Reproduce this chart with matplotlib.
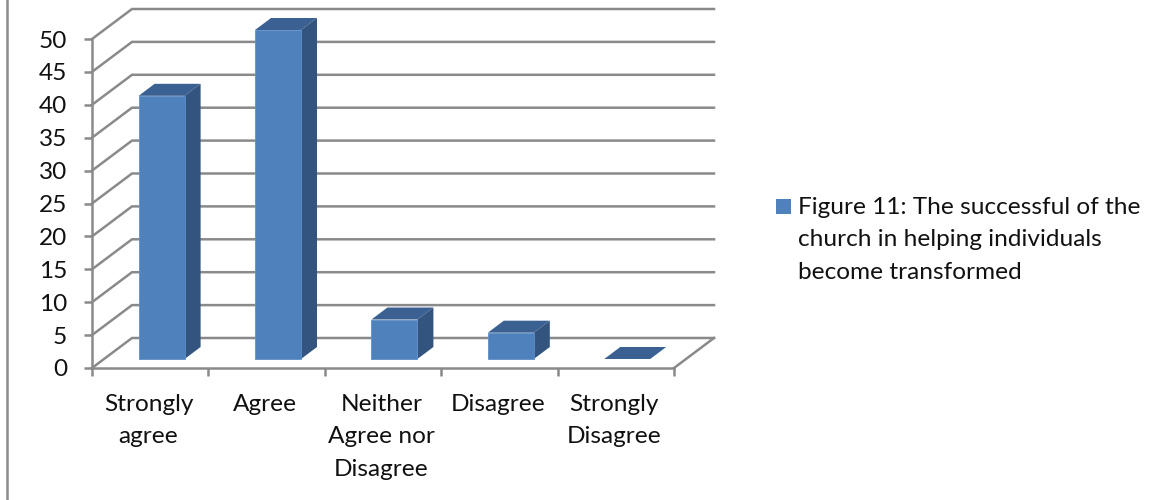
import matplotlib
matplotlib.use("Agg")
import matplotlib.pyplot as plt
from matplotlib.lines import Line2D
from matplotlib.patches import Patch, Polygon, Rectangle
from matplotlib.legend_handler import HandlerPatch

categories = ["Strongly\nagree", "Agree", "Neither\nAgree nor\nDisagree", "Disagree", "Strongly\nDisagree"]
values = [40, 50, 6, 4, 0]
y_ticks = list(range(0, 55, 5))
series_name = "Figure 11: The successful of the\nchurch in helping individuals\nbecome transformed"

FRONT = "#4f81bd"
SIDE = "#32547e"
TOP = "#3b6192"
GRID = "#8a8a8a"
TEXT = "#111111"
FONT = "Lato"
FONT_SIZE = 17.6

W, H = 1153, 500
fig = plt.figure(figsize=(W / 100, H / 100), dpi=100, facecolor="white")
ax = fig.add_axes([92 / W, (H - 368) / H, 582 / W, 329 / H])
ax.set_xlim(0, len(categories))
ax.set_ylim(0, 50)
for s in ax.spines.values():
    s.set_visible(False)
ax.patch.set_alpha(0)

# Depth of the oblique projection, in data units along each axis
depth_x = 40 / (582 / 5)
depth_y = 30 / (329 / 50)
grid_lw = 1.8

def project(x, y, d):
    """Front-plane point pushed back by a depth fraction d."""
    return x + d * depth_x, y + d * depth_y

# Wall and floor gridlines
for v in y_ticks:
    x0, y0 = project(0, v, 1)
    x1, _ = project(len(categories), v, 1)
    ax.plot([0, x0, x1], [v, y0, y0], color=GRID, lw=grid_lw, clip_on=False,
            solid_joinstyle="miter", zorder=1)
x_end, y_end = project(len(categories), 0, 1)
ax.plot([len(categories), x_end], [0, y_end], color=GRID, lw=grid_lw, clip_on=False, zorder=1)
ax.plot([0, 0], [0, 50], color=GRID, lw=grid_lw, clip_on=False, zorder=2)
ax.plot([0, len(categories)], [0, 0], color=GRID, lw=grid_lw, clip_on=False, zorder=2)

# Extruded columns
bar_width = 0.395
near, far = 0.3, 0.7
for i, v in enumerate(values):
    xl = i + 0.5 - bar_width / 2 - 0.005
    xr = xl + bar_width
    def pts(seq):
        return [project(x, y, d) for x, y, d in seq]
    top = pts([(xl, v, near), (xr, v, near), (xr, v, far), (xl, v, far)])
    ax.add_patch(Polygon(top, closed=True, fc=TOP, ec="none", clip_on=False, zorder=3))
    if v > 0:
        side = pts([(xr, 0, near), (xr, 0, far), (xr, v, far), (xr, v, near)])
        ax.add_patch(Polygon(side, closed=True, fc=SIDE, ec="none", clip_on=False, zorder=3))
        front = pts([(xl, 0, near), (xr, 0, near), (xr, v, near), (xl, v, near)])
        ax.add_patch(Polygon(front, closed=True, fc=FRONT, ec="#5f8fc8", lw=0.6, clip_on=False, zorder=4))

# Axis ticks and labels
ax.set_yticks(y_ticks)
ax.set_xticks(range(len(categories) + 1))
ax.set_xticklabels([])
ax.tick_params(axis="both", color=GRID, width=grid_lw, length=5.8)
ax.tick_params(axis="y", pad=12, labelsize=FONT_SIZE, labelcolor=TEXT)
for lab in ax.get_yticklabels():
    lab.set_fontfamily(FONT)
for i, c in enumerate(categories):
    ax.annotate(c, xy=(i + 0.5, 0), xycoords="data", xytext=(-1.2, -18.5), textcoords="offset points",
                ha="center", va="top", fontsize=FONT_SIZE, color=TEXT, family=FONT,
                linespacing=1.68, annotation_clip=False)

# Legend swatch sits beside the first line of its label
def swatch(legend, orig_handle, xdescent, ydescent, width, height, fontsize):
    size = 10.8
    return Rectangle((-xdescent, -ydescent + 25), size, size)

handle = Patch(facecolor=FRONT, edgecolor="none")
ax.legend([handle], [series_name], loc="center left",
          bbox_to_anchor=(776 / W, (H - 240) / H), bbox_transform=fig.transFigure,
          frameon=False, prop={"family": FONT, "size": FONT_SIZE},
          handlelength=0.62, handletextpad=0.26, borderpad=0, borderaxespad=0,
          labelcolor=TEXT, handler_map={handle: HandlerPatch(patch_func=swatch)})
ax.get_legend().get_texts()[0].set_linespacing(1.68)

# Chart frame edge along the left of the canvas
fig.add_artist(Line2D([7 / W, 7 / W], [0, 1], color="#8c8c8c", lw=1.8))

fig.savefig("out.png", dpi=100)
